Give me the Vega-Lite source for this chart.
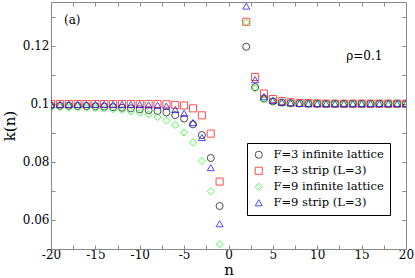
{
  "$schema": "https://vega.github.io/schema/vega-lite/v6.json",
  "width": 355,
  "height": 247,
  "autosize": "none",
  "padding": {"left": 51, "top": 2, "right": 9, "bottom": 29},
  "background": "white",
  "config": {
    "view": {"stroke": "#888888"},
    "font": "DejaVu Serif",
    "text": {"font": "DejaVu Serif"},
    "legend": {"labelFont": "DejaVu Serif"},
    "axis": {"grid": false, "domainColor": "#888888", "tickColor": "#888888", "labelColor": "black", "labelFont": "DejaVu Serif", "labelFontSize": 12, "titleFont": "DejaVu Serif", "titleFontWeight": "normal", "titleFontSize": 15, "tickSize": -4, "labelPadding": 6}
  },
  "datasets": {
    "pts": [
      {"n": -20, "k": 0.0993, "s": "F=3 infinite lattice"},
      {"n": -19, "k": 0.0993, "s": "F=3 infinite lattice"},
      {"n": -18, "k": 0.0993, "s": "F=3 infinite lattice"},
      {"n": -17, "k": 0.0992, "s": "F=3 infinite lattice"},
      {"n": -16, "k": 0.0992, "s": "F=3 infinite lattice"},
      {"n": -15, "k": 0.0991, "s": "F=3 infinite lattice"},
      {"n": -14, "k": 0.0990, "s": "F=3 infinite lattice"},
      {"n": -13, "k": 0.0988, "s": "F=3 infinite lattice"},
      {"n": -12, "k": 0.0986, "s": "F=3 infinite lattice"},
      {"n": -11, "k": 0.0984, "s": "F=3 infinite lattice"},
      {"n": -10, "k": 0.0981, "s": "F=3 infinite lattice"},
      {"n": -9, "k": 0.0978, "s": "F=3 infinite lattice"},
      {"n": -8, "k": 0.0975, "s": "F=3 infinite lattice"},
      {"n": -7, "k": 0.0970, "s": "F=3 infinite lattice"},
      {"n": -6, "k": 0.0961, "s": "F=3 infinite lattice"},
      {"n": -5, "k": 0.0949, "s": "F=3 infinite lattice"},
      {"n": -4, "k": 0.0929, "s": "F=3 infinite lattice"},
      {"n": -3, "k": 0.0892, "s": "F=3 infinite lattice"},
      {"n": -2, "k": 0.0813, "s": "F=3 infinite lattice"},
      {"n": -1, "k": 0.0648, "s": "F=3 infinite lattice"},
      {"n": 2, "k": 0.1196, "s": "F=3 infinite lattice"},
      {"n": 3, "k": 0.1057, "s": "F=3 infinite lattice"},
      {"n": 4, "k": 0.1018, "s": "F=3 infinite lattice"},
      {"n": 5, "k": 0.1008, "s": "F=3 infinite lattice"},
      {"n": 6, "k": 0.1004, "s": "F=3 infinite lattice"},
      {"n": 7, "k": 0.1002, "s": "F=3 infinite lattice"},
      {"n": 8, "k": 0.1001, "s": "F=3 infinite lattice"},
      {"n": 9, "k": 0.1000, "s": "F=3 infinite lattice"},
      {"n": 10, "k": 0.1000, "s": "F=3 infinite lattice"},
      {"n": 11, "k": 0.1000, "s": "F=3 infinite lattice"},
      {"n": 12, "k": 0.1000, "s": "F=3 infinite lattice"},
      {"n": 13, "k": 0.1000, "s": "F=3 infinite lattice"},
      {"n": 14, "k": 0.1000, "s": "F=3 infinite lattice"},
      {"n": 15, "k": 0.1000, "s": "F=3 infinite lattice"},
      {"n": 16, "k": 0.1000, "s": "F=3 infinite lattice"},
      {"n": 17, "k": 0.1000, "s": "F=3 infinite lattice"},
      {"n": 18, "k": 0.1000, "s": "F=3 infinite lattice"},
      {"n": 19, "k": 0.1000, "s": "F=3 infinite lattice"},
      {"n": 20, "k": 0.1000, "s": "F=3 infinite lattice"},

      {"n": -20, "k": 0.0999, "s": "F=3 strip (L=3)"},
      {"n": -19, "k": 0.0999, "s": "F=3 strip (L=3)"},
      {"n": -18, "k": 0.0999, "s": "F=3 strip (L=3)"},
      {"n": -17, "k": 0.0999, "s": "F=3 strip (L=3)"},
      {"n": -16, "k": 0.0999, "s": "F=3 strip (L=3)"},
      {"n": -15, "k": 0.0999, "s": "F=3 strip (L=3)"},
      {"n": -14, "k": 0.0999, "s": "F=3 strip (L=3)"},
      {"n": -13, "k": 0.0999, "s": "F=3 strip (L=3)"},
      {"n": -12, "k": 0.0999, "s": "F=3 strip (L=3)"},
      {"n": -11, "k": 0.0999, "s": "F=3 strip (L=3)"},
      {"n": -10, "k": 0.0999, "s": "F=3 strip (L=3)"},
      {"n": -9, "k": 0.0999, "s": "F=3 strip (L=3)"},
      {"n": -8, "k": 0.0999, "s": "F=3 strip (L=3)"},
      {"n": -7, "k": 0.0998, "s": "F=3 strip (L=3)"},
      {"n": -6, "k": 0.0996, "s": "F=3 strip (L=3)"},
      {"n": -5, "k": 0.0994, "s": "F=3 strip (L=3)"},
      {"n": -4, "k": 0.0984, "s": "F=3 strip (L=3)"},
      {"n": -3, "k": 0.0960, "s": "F=3 strip (L=3)"},
      {"n": -2, "k": 0.0897, "s": "F=3 strip (L=3)"},
      {"n": -1, "k": 0.0732, "s": "F=3 strip (L=3)"},
      {"n": 2, "k": 0.1282, "s": "F=3 strip (L=3)"},
      {"n": 3, "k": 0.1092, "s": "F=3 strip (L=3)"},
      {"n": 4, "k": 0.1035, "s": "F=3 strip (L=3)"},
      {"n": 5, "k": 0.1016, "s": "F=3 strip (L=3)"},
      {"n": 6, "k": 0.1009, "s": "F=3 strip (L=3)"},
      {"n": 7, "k": 0.1005, "s": "F=3 strip (L=3)"},
      {"n": 8, "k": 0.1003, "s": "F=3 strip (L=3)"},
      {"n": 9, "k": 0.1002, "s": "F=3 strip (L=3)"},
      {"n": 10, "k": 0.1001, "s": "F=3 strip (L=3)"},
      {"n": 11, "k": 0.1000, "s": "F=3 strip (L=3)"},
      {"n": 12, "k": 0.1000, "s": "F=3 strip (L=3)"},
      {"n": 13, "k": 0.1000, "s": "F=3 strip (L=3)"},
      {"n": 14, "k": 0.1000, "s": "F=3 strip (L=3)"},
      {"n": 15, "k": 0.1000, "s": "F=3 strip (L=3)"},
      {"n": 16, "k": 0.1000, "s": "F=3 strip (L=3)"},
      {"n": 17, "k": 0.1000, "s": "F=3 strip (L=3)"},
      {"n": 18, "k": 0.1000, "s": "F=3 strip (L=3)"},
      {"n": 19, "k": 0.1000, "s": "F=3 strip (L=3)"},
      {"n": 20, "k": 0.1000, "s": "F=3 strip (L=3)"},

      {"n": -20, "k": 0.0988, "s": "F=9 infinite lattice"},
      {"n": -19, "k": 0.0988, "s": "F=9 infinite lattice"},
      {"n": -18, "k": 0.0987, "s": "F=9 infinite lattice"},
      {"n": -17, "k": 0.0987, "s": "F=9 infinite lattice"},
      {"n": -16, "k": 0.0986, "s": "F=9 infinite lattice"},
      {"n": -15, "k": 0.0985, "s": "F=9 infinite lattice"},
      {"n": -14, "k": 0.0983, "s": "F=9 infinite lattice"},
      {"n": -13, "k": 0.0981, "s": "F=9 infinite lattice"},
      {"n": -12, "k": 0.0978, "s": "F=9 infinite lattice"},
      {"n": -11, "k": 0.0974, "s": "F=9 infinite lattice"},
      {"n": -10, "k": 0.0969, "s": "F=9 infinite lattice"},
      {"n": -9, "k": 0.0963, "s": "F=9 infinite lattice"},
      {"n": -8, "k": 0.0954, "s": "F=9 infinite lattice"},
      {"n": -7, "k": 0.0942, "s": "F=9 infinite lattice"},
      {"n": -6, "k": 0.0927, "s": "F=9 infinite lattice"},
      {"n": -5, "k": 0.0901, "s": "F=9 infinite lattice"},
      {"n": -4, "k": 0.0867, "s": "F=9 infinite lattice"},
      {"n": -3, "k": 0.0803, "s": "F=9 infinite lattice"},
      {"n": -2, "k": 0.0698, "s": "F=9 infinite lattice"},
      {"n": -1, "k": 0.0516, "s": "F=9 infinite lattice"},
      {"n": 2, "k": 0.1280, "s": "F=9 infinite lattice"},
      {"n": 3, "k": 0.1053, "s": "F=9 infinite lattice"},
      {"n": 4, "k": 0.1015, "s": "F=9 infinite lattice"},
      {"n": 5, "k": 0.1007, "s": "F=9 infinite lattice"},
      {"n": 6, "k": 0.1003, "s": "F=9 infinite lattice"},
      {"n": 7, "k": 0.1001, "s": "F=9 infinite lattice"},
      {"n": 8, "k": 0.1000, "s": "F=9 infinite lattice"},
      {"n": 9, "k": 0.1000, "s": "F=9 infinite lattice"},
      {"n": 10, "k": 0.1000, "s": "F=9 infinite lattice"},
      {"n": 11, "k": 0.1000, "s": "F=9 infinite lattice"},
      {"n": 12, "k": 0.1000, "s": "F=9 infinite lattice"},
      {"n": 13, "k": 0.1000, "s": "F=9 infinite lattice"},
      {"n": 14, "k": 0.1000, "s": "F=9 infinite lattice"},
      {"n": 15, "k": 0.1000, "s": "F=9 infinite lattice"},
      {"n": 16, "k": 0.1000, "s": "F=9 infinite lattice"},
      {"n": 17, "k": 0.1000, "s": "F=9 infinite lattice"},
      {"n": 18, "k": 0.1000, "s": "F=9 infinite lattice"},
      {"n": 19, "k": 0.1000, "s": "F=9 infinite lattice"},
      {"n": 20, "k": 0.1000, "s": "F=9 infinite lattice"},

      {"n": -20, "k": 0.0998, "s": "F=9 strip (L=3)"},
      {"n": -19, "k": 0.0998, "s": "F=9 strip (L=3)"},
      {"n": -18, "k": 0.0998, "s": "F=9 strip (L=3)"},
      {"n": -17, "k": 0.0998, "s": "F=9 strip (L=3)"},
      {"n": -16, "k": 0.0998, "s": "F=9 strip (L=3)"},
      {"n": -15, "k": 0.0998, "s": "F=9 strip (L=3)"},
      {"n": -14, "k": 0.0998, "s": "F=9 strip (L=3)"},
      {"n": -13, "k": 0.0998, "s": "F=9 strip (L=3)"},
      {"n": -12, "k": 0.0998, "s": "F=9 strip (L=3)"},
      {"n": -11, "k": 0.0998, "s": "F=9 strip (L=3)"},
      {"n": -10, "k": 0.0997, "s": "F=9 strip (L=3)"},
      {"n": -9, "k": 0.0996, "s": "F=9 strip (L=3)"},
      {"n": -8, "k": 0.0995, "s": "F=9 strip (L=3)"},
      {"n": -7, "k": 0.0992, "s": "F=9 strip (L=3)"},
      {"n": -6, "k": 0.0980, "s": "F=9 strip (L=3)"},
      {"n": -5, "k": 0.0967, "s": "F=9 strip (L=3)"},
      {"n": -4, "k": 0.0935, "s": "F=9 strip (L=3)"},
      {"n": -3, "k": 0.0884, "s": "F=9 strip (L=3)"},
      {"n": -2, "k": 0.0780, "s": "F=9 strip (L=3)"},
      {"n": -1, "k": 0.0587, "s": "F=9 strip (L=3)"},
      {"n": 2, "k": 0.1336, "s": "F=9 strip (L=3)"},
      {"n": 3, "k": 0.1083, "s": "F=9 strip (L=3)"},
      {"n": 4, "k": 0.1024, "s": "F=9 strip (L=3)"},
      {"n": 5, "k": 0.1011, "s": "F=9 strip (L=3)"},
      {"n": 6, "k": 0.1005, "s": "F=9 strip (L=3)"},
      {"n": 7, "k": 0.1003, "s": "F=9 strip (L=3)"},
      {"n": 8, "k": 0.1001, "s": "F=9 strip (L=3)"},
      {"n": 9, "k": 0.1000, "s": "F=9 strip (L=3)"},
      {"n": 10, "k": 0.1000, "s": "F=9 strip (L=3)"},
      {"n": 11, "k": 0.1000, "s": "F=9 strip (L=3)"},
      {"n": 12, "k": 0.1000, "s": "F=9 strip (L=3)"},
      {"n": 13, "k": 0.1000, "s": "F=9 strip (L=3)"},
      {"n": 14, "k": 0.1000, "s": "F=9 strip (L=3)"},
      {"n": 15, "k": 0.1000, "s": "F=9 strip (L=3)"},
      {"n": 16, "k": 0.1000, "s": "F=9 strip (L=3)"},
      {"n": 17, "k": 0.1000, "s": "F=9 strip (L=3)"},
      {"n": 18, "k": 0.1000, "s": "F=9 strip (L=3)"},
      {"n": 19, "k": 0.1000, "s": "F=9 strip (L=3)"},
      {"n": 20, "k": 0.1000, "s": "F=9 strip (L=3)"}
    ],
    "notes": [
      {"n": -17.6, "k": 0.1287, "t": "(a)"},
      {"n": 15.3, "k": 0.1163, "t": "ρ=0.1"}
    ]
  },
  "layer": [
    {
      "data": {"name": "pts"},
      "mark": {"type": "point", "filled": false, "strokeWidth": 1, "size": 50, "clip": true},
      "encoding": {
        "x": {"field": "n", "type": "quantitative", "title": "n",
              "scale": {"domain": [-20, 20], "nice": false, "zero": false},
              "axis": {"values": [-20, -17.5, -15, -12.5, -10, -7.5, -5, -2.5, 0, 2.5, 5, 7.5, 10, 12.5, 15, 17.5, 20],
                       "labelExpr": "datum.value % 5 == 0 ? '' + datum.value : ''", "labelPadding": 4, "titlePadding": 2, "labelFlush": false}},
        "y": {"field": "k", "type": "quantitative", "title": "k(n)",
              "scale": {"domain": [0.05, 0.135], "nice": false, "zero": false},
              "axis": {"values": [0.06, 0.07, 0.08, 0.09, 0.1, 0.11, 0.12, 0.13],
                       "labelExpr": "round(datum.value * 100) % 2 == 0 ? format(datum.value, '~g') : ''", "titlePadding": 5, "labelFlush": false}},
        "color": {"field": "s", "type": "nominal",
                  "scale": {"domain": ["F=3 infinite lattice", "F=3 strip (L=3)", "F=9 infinite lattice", "F=9 strip (L=3)"],
                            "range": ["#000000", "#ff0000", "#00ff00", "#0000ff"]},
                  "legend": {"title": null, "orient": "none", "legendX": 196, "legendY": 141,
                             "strokeColor": "#000000", "padding": 6, "labelFont": "DejaVu Serif", "labelFontSize": 11.5,
                             "labelColor": "black", "symbolSize": 50, "symbolStrokeWidth": 1, "rowPadding": 3, "labelOffset": 9, "fillColor": "white"}},
        "shape": {"field": "s", "type": "nominal",
                  "scale": {"domain": ["F=3 infinite lattice", "F=3 strip (L=3)", "F=9 infinite lattice", "F=9 strip (L=3)"],
                            "range": ["circle", "square", "diamond", "triangle-up"]},
                  "legend": null}
      }
    },
    {
      "data": {"name": "notes"},
      "mark": {"type": "text", "font": "DejaVu Serif", "fontSize": 12, "align": "center", "baseline": "middle", "color": "black"},
      "encoding": {
        "x": {"field": "n", "type": "quantitative", "axis": {"orient": "top", "values": [-17.5, -15, -12.5, -10, -7.5, -5, -2.5, 0, 2.5, 5, 7.5, 10, 12.5, 15, 17.5], "labels": false, "title": null, "domain": false}},
        "y": {"field": "k", "type": "quantitative", "axis": {"orient": "right", "values": [0.06, 0.07, 0.08, 0.09, 0.1, 0.11, 0.12, 0.13], "labels": false, "title": null, "domain": false}},
        "text": {"field": "t", "type": "nominal"}
      }
    }
  ],
  "resolve": {"axis": {"x": "independent", "y": "independent"}}
}
